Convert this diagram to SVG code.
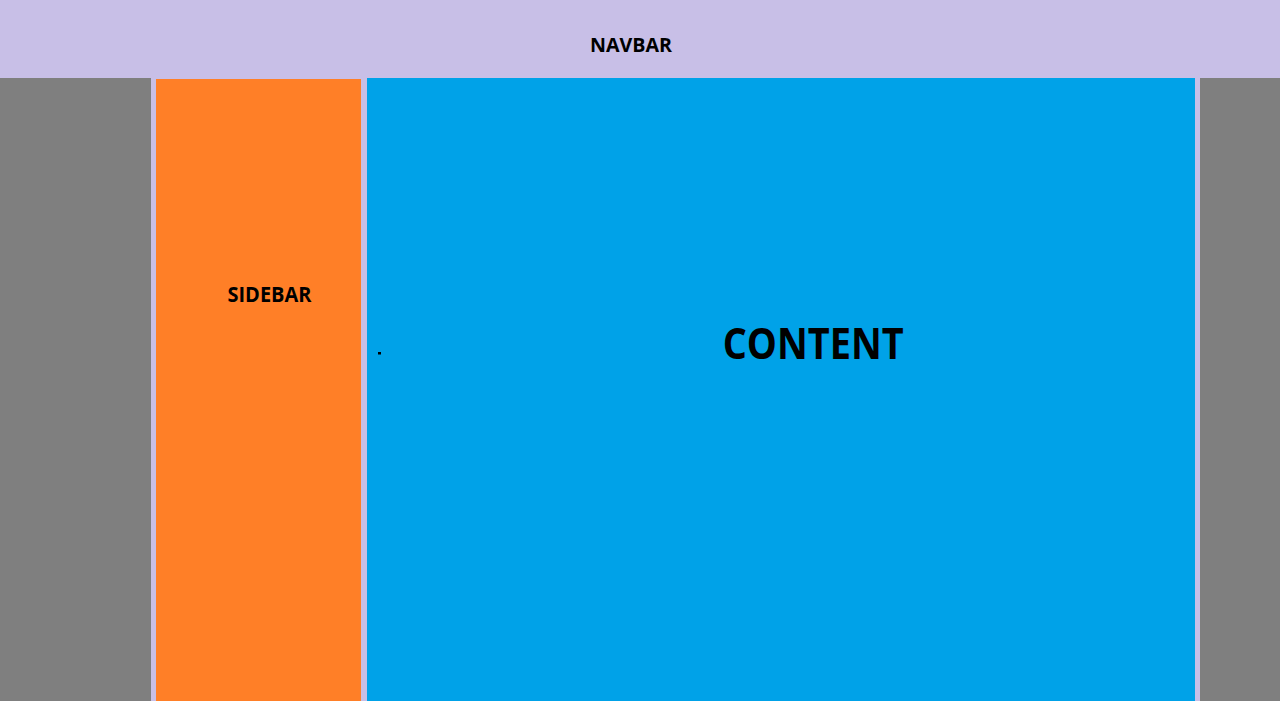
<svg xmlns="http://www.w3.org/2000/svg" width="1280" height="701" viewBox="0 0 1280 701">
<style>
.t{font-family:"Open Sans","Liberation Sans",sans-serif;font-weight:bold;fill:#000}
</style>
<rect x="0" y="0" width="1280" height="701" fill="#C8BFE7"/>
<g id="navbar">
<text class="t" x="590" y="51.7" font-size="20" textLength="82" lengthAdjust="spacingAndGlyphs">NAVBAR</text>
</g>
<g id="left-gutter"><rect x="0" y="78" width="151" height="623" fill="#7F7F7F"/></g>
<g id="right-gutter"><rect x="1200" y="78" width="80" height="623" fill="#7F7F7F"/></g>
<g id="sidebar">
<rect x="156" y="79" width="205" height="622" fill="#FF7F27"/>
<text class="t" x="227.5" y="301.7" font-size="21" textLength="84" lengthAdjust="spacingAndGlyphs">SIDEBAR</text>
</g>
<g id="content">
<rect x="367" y="78" width="828" height="623" fill="#00A2E8"/>
<rect x="378" y="352" width="3" height="2.5" fill="#000"/>
<text class="t" x="722.7" y="359.3" font-size="43" textLength="181" lengthAdjust="spacingAndGlyphs">CONTENT</text>
</g>
<g id="connectors"/>
</svg>
